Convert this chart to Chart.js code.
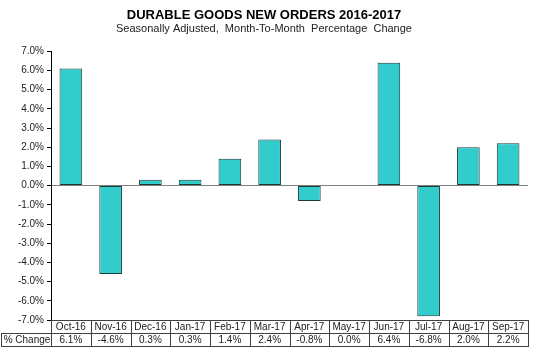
<!DOCTYPE html>
<html>
<head>
<meta charset="utf-8">
<script src="https://cdn.jsdelivr.net/npm/chart.js@4.4.1/dist/chart.umd.min.js"></script>
<style>
  html, body { margin: 0; padding: 0; background: #fff; }
  #wrap { width: 538px; height: 353px; }
</style>
</head>
<body>
<div id="wrap"><canvas id="c" width="538" height="353"></canvas></div>
<script>
// data
const months = ['Oct-16','Nov-16','Dec-16','Jan-17','Feb-17','Mar-17','Apr-17','May-17','Jun-17','Jul-17','Aug-17','Sep-17'];
const pctChange = [6.1, -4.6, 0.3, 0.3, 1.4, 2.4, -0.8, 0.0, 6.4, -6.8, 2.0, 2.2];
const rowLabel = '% Change';
const titleText = 'DURABLE GOODS NEW ORDERS 2016-2017';
const subtitleText = 'Seasonally Adjusted,  Month-To-Month  Percentage  Change';

const FONT = '"Liberation Sans", Arial, sans-serif';
const fmt = v => v.toFixed(1) + '%';

// draws the little data table under the plot, using the x scale for column positions
const dataTable = {
  id: 'dataTable',
  afterDraw(chart) {
    const { ctx, chartArea, scales } = chart;
    const x = scales.x;
    const colW = chartArea.width / months.length;
    const top = Math.round(chartArea.bottom);
    const mid = top + 13;
    const bot = mid + 13;
    const leftEdge = 1;

    ctx.save();
    ctx.strokeStyle = '#404040';
    ctx.lineWidth = 1;
    ctx.beginPath();
    // horizontal lines
    ctx.moveTo(chartArea.left, top + 0.5); ctx.lineTo(chartArea.right, top + 0.5);
    ctx.moveTo(leftEdge, mid + 0.5); ctx.lineTo(chartArea.right, mid + 0.5);
    ctx.moveTo(leftEdge, bot + 0.5); ctx.lineTo(chartArea.right, bot + 0.5);
    // vertical lines
    for (let i = 0; i <= months.length; i++) {
      const px = Math.round(chartArea.left + i * colW) + 0.5;
      ctx.moveTo(px, top); ctx.lineTo(px, bot + 1);
    }
    ctx.moveTo(leftEdge + 0.5, mid); ctx.lineTo(leftEdge + 0.5, bot + 1);
    ctx.stroke();

    ctx.fillStyle = '#222';
    ctx.font = '10px ' + FONT;
    ctx.textAlign = 'center';
    ctx.textBaseline = 'middle';
    months.forEach((m, i) => {
      const cx = x.getPixelForValue(i);
      ctx.fillText(m, cx, (top + mid) / 2 + 1);
      ctx.fillText(fmt(pctChange[i]), cx, (mid + bot) / 2 + 1);
    });
    ctx.fillText(rowLabel, (leftEdge + chartArea.left) / 2 + 1, (mid + bot) / 2 + 1);
    ctx.restore();
  }
};

new Chart(document.getElementById('c'), {
  type: 'bar',
  data: {
    labels: months,
    datasets: [{
      label: rowLabel,
      data: pctChange,
      backgroundColor: '#33CCCC',
      borderColor: '#1a3a3a',
      borderWidth: 1,
      borderSkipped: false,
      barPercentage: 0.57,
      categoryPercentage: 1
    }]
  },
  options: {
    responsive: false,
    animation: false,
    layout: { padding: { top: 0, bottom: 33, right: 10, left: 0 } },
    scales: {
      x: { display: false, offset: true },
      y: {
        min: -7, max: 7,
        afterFit: s => { s.width = 51; },
        ticks: {
          stepSize: 1,
          callback: v => fmt(v),
          color: '#222',
          font: { family: FONT, size: 10 },
          padding: 3
        },
        grid: {
          color: c => (c.tick && c.tick.value === 0) ? '#808080' : 'rgba(0,0,0,0)',
          tickColor: '#000',
          tickLength: 4,
          drawOnChartArea: true
        },
        border: { display: true, color: '#000' }
      }
    },
    plugins: {
      legend: { display: false },
      tooltip: { enabled: false },
      title: {
        display: true,
        text: titleText,
        color: '#000',
        font: { family: FONT, size: 13, weight: 'bold', lineHeight: 1 },
        padding: { top: 9, bottom: 0 }
      },
      subtitle: {
        display: true,
        text: subtitleText,
        color: '#222',
        font: { family: FONT, size: 11, lineHeight: 1.2 },
        padding: { top: 0, bottom: 16 }
      }
    }
  },
  plugins: [dataTable]
});
</script>
</body>
</html>
